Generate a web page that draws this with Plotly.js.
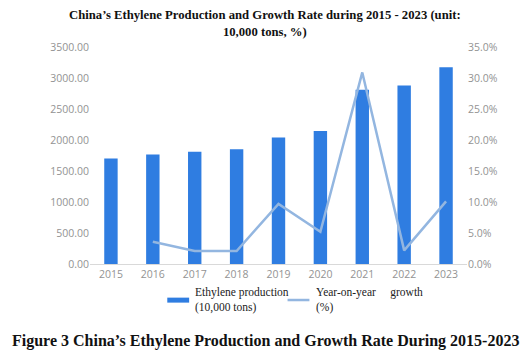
<!DOCTYPE html>
<html>
<head>
<meta charset="utf-8">
<script src="https://cdn.plot.ly/plotly-3.0.1.min.js"></script>
<style>html,body{margin:0;padding:0;background:#fff;}#chart{width:531px;height:351px;}</style>
</head>
<body>
<div id="chart"></div>
<script>
const years = ['2015','2016','2017','2018','2019','2020','2021','2022','2023'];
const production = [1700, 1766, 1809, 1851, 2039, 2146, 2810, 2879, 3174];
const growthYears = ['2016','2017','2018','2019','2020','2021','2022','2023'];
const growth = [3.6, 2.1, 2.1, 9.7, 5.2, 30.9, 2.2, 10.1];
const leftTicks = [0, 500, 1000, 1500, 2000, 2500, 3000, 3500];
const rightTicks = [0, 5, 10, 15, 20, 25, 30, 35];

const barColor = '#2f7de1';
const lineColor = '#93b6e0';
const tickFont = {family: 'Open Sans, sans-serif', size: 10.5, color: '#939393'};
const serif = 'Liberation Serif, Times New Roman, serif';

const data = [
  {type: 'bar', x: years, y: production, marker: {color: barColor}, name: 'Ethylene production (10,000 tons)', showlegend: false, hoverinfo: 'none'},
  {type: 'scatter', mode: 'lines', x: growthYears, y: growth, yaxis: 'y2', line: {color: lineColor, width: 2.5}, name: 'Year-on-year growth (%)', showlegend: false, hoverinfo: 'none'}
];

const layout = {
  width: 531, height: 351,
  margin: {l: 90, r: 64, t: 47, b: 87},
  paper_bgcolor: '#fff', plot_bgcolor: '#fff',
  bargap: 0.68,
  showlegend: false,
  xaxis: {type: 'category', tickfont: tickFont, showgrid: false, showline: true, linecolor: '#d9d9d9', linewidth: 1, ticks: '', zeroline: false, range: [-0.5, 8.5]},
  yaxis: {range: [0, 3500], tickvals: leftTicks, tickformat: '.2f', tickfont: tickFont, showgrid: false, zeroline: false, showline: false, ticks: '', automargin: false},
  yaxis2: {overlaying: 'y', side: 'right', range: [0, 35], tickmode: 'array', tickvals: rightTicks, ticktext: rightTicks.map(v => v.toFixed(1) + '%'), tickfont: tickFont, showgrid: false, zeroline: false, showline: false, ticks: '', automargin: false},
  shapes: [
    {type: 'rect', xref: 'paper', yref: 'paper', x0: 0.205, x1: 0.263, y0: -0.178, y1: -0.155, fillcolor: barColor, line: {width: 0}},
    {type: 'line', xref: 'paper', yref: 'paper', x0: 0.524, x1: 0.582, y0: -0.166, y1: -0.166, line: {color: lineColor, width: 2.5}}
  ],
  annotations: [
    {xref: 'paper', yref: 'paper', x: 0.465, y: 1.11, xanchor: 'center', yanchor: 'middle', align: 'center', showarrow: false, text: '<b>China’s Ethylene Production and Growth Rate during 2015 - 2023 (unit:<br>10,000 tons, %)</b>', font: {family: serif, size: 12.7, color: '#111'}},
    {xref: 'paper', yref: 'paper', x: 0.273, y: -0.166, xanchor: 'left', yanchor: 'middle', align: 'left', showarrow: false, text: 'Ethylene production<br>(10,000 tons)', font: {family: serif, size: 11.5, color: '#222'}},
    {xref: 'paper', yref: 'paper', x: 0.595, y: -0.166, xanchor: 'left', yanchor: 'middle', align: 'left', showarrow: false, text: 'Year-on-year&nbsp;&nbsp;&nbsp;&nbsp;&nbsp;growth<br>(%)', font: {family: serif, size: 11.5, color: '#222'}},
    {xref: 'paper', yref: 'paper', x: 0.465, y: -0.355, xanchor: 'center', yanchor: 'middle', showarrow: false, text: '<b>Figure 3 China’s Ethylene Production and Growth Rate During 2015-2023</b>', font: {family: serif, size: 16, color: '#111'}}
  ]
};

Plotly.newPlot('chart', data, layout, {staticPlot: true, displayModeBar: false});
</script>
</body>
</html>
